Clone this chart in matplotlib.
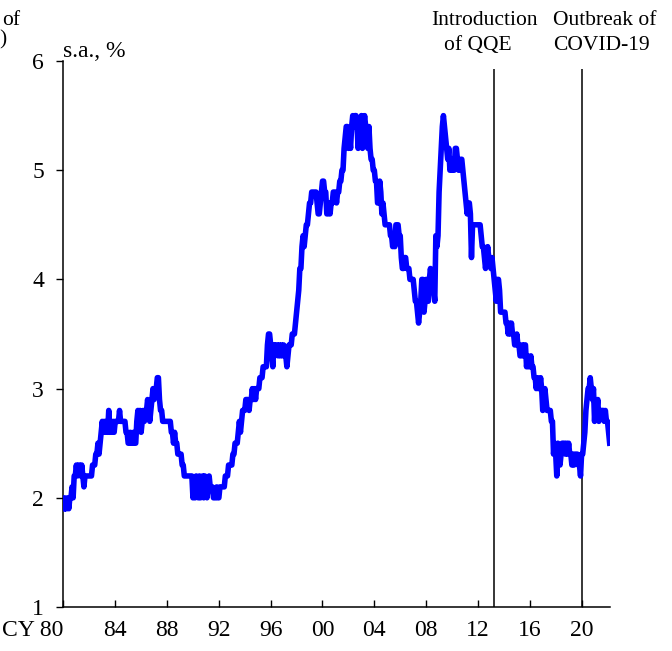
import matplotlib
matplotlib.use('Agg')
import numpy as np
import matplotlib.pyplot as plt

plt.rcParams['font.family'] = ['Liberation Serif', 'DejaVu Serif']

# unemployment rate, s.a., %, monthly from Jan 1980
rate_1980s = [1.9, 2.0, 1.9, 1.9, 2.0, 1.9, 2.0, 2.0, 2.1, 2.0, 2.2, 2.2,
              2.3, 2.2, 2.3, 2.3, 2.2, 2.3, 2.2, 2.1, 2.2, 2.2, 2.2, 2.2,
              2.2, 2.2, 2.2, 2.3, 2.3, 2.3, 2.4, 2.4, 2.5, 2.4, 2.5, 2.6,
              2.7, 2.6, 2.7, 2.6, 2.7, 2.6, 2.8, 2.6, 2.7, 2.6, 2.7, 2.6,
              2.7, 2.7, 2.7, 2.7, 2.8, 2.7, 2.7, 2.7, 2.7, 2.7, 2.6, 2.6,
              2.5, 2.5, 2.6, 2.5, 2.5, 2.6, 2.5, 2.5, 2.7, 2.8, 2.7, 2.8,
              2.6, 2.7, 2.8, 2.7, 2.8, 2.8, 2.9, 2.8, 2.7, 2.8, 2.9, 3.0,
              2.9, 3.0, 3.0, 3.1, 3.1, 2.9, 2.8, 2.8, 2.7, 2.7, 2.7, 2.7,
              2.7, 2.7, 2.7, 2.7, 2.6, 2.6, 2.5, 2.6, 2.5, 2.5, 2.4, 2.4,
              2.4, 2.4, 2.3, 2.3, 2.2, 2.2, 2.2, 2.2, 2.2, 2.2, 2.2, 2.2]
rate_1990s = [2.0, 2.1, 2.0, 2.2, 2.1, 2.0, 2.2, 2.0, 2.1, 2.2, 2.0, 2.2,
              2.1, 2.0, 2.1, 2.2, 2.1, 2.1, 2.1, 2.0, 2.0, 2.0, 2.1, 2.0,
              2.0, 2.1, 2.1, 2.1, 2.1, 2.1, 2.2, 2.2, 2.2, 2.3, 2.3, 2.3,
              2.3, 2.4, 2.4, 2.5, 2.5, 2.5, 2.6, 2.7, 2.6, 2.7, 2.8, 2.8,
              2.8, 2.9, 2.9, 2.9, 2.8, 2.9, 2.9, 3.0, 2.9, 3.0, 2.9, 3.0,
              3.0, 3.0, 3.1, 3.1, 3.1, 3.2, 3.2, 3.2, 3.2, 3.4, 3.5, 3.5,
              3.4, 3.3, 3.2, 3.4, 3.3, 3.4, 3.4, 3.3, 3.4, 3.3, 3.4, 3.3,
              3.4, 3.3, 3.3, 3.2, 3.3, 3.4, 3.4, 3.4, 3.5, 3.5, 3.5, 3.6,
              3.7, 3.8, 3.9, 4.1, 4.1, 4.3, 4.4, 4.3, 4.4, 4.5, 4.5, 4.6,
              4.7, 4.7, 4.8, 4.8, 4.8, 4.8, 4.8, 4.7, 4.6, 4.6, 4.7, 4.8]
rate_2000s = [4.9, 4.9, 4.8, 4.8, 4.6, 4.6, 4.7, 4.6, 4.7, 4.7, 4.8, 4.8,
              4.8, 4.7, 4.8, 4.8, 4.9, 4.9, 5.0, 5.0, 5.2, 5.3, 5.4, 5.4,
              5.2, 5.3, 5.2, 5.4, 5.5, 5.4, 5.5, 5.5, 5.4, 5.2, 5.4, 5.3,
              5.5, 5.2, 5.4, 5.5, 5.4, 5.3, 5.2, 5.4, 5.2, 5.1, 5.1, 5.0,
              5.0, 4.9, 4.9, 4.7, 4.7, 4.9, 4.8, 4.6, 4.7, 4.6, 4.5, 4.5,
              4.5, 4.5, 4.5, 4.4, 4.4, 4.3, 4.4, 4.3, 4.5, 4.5, 4.5, 4.4,
              4.4, 4.2, 4.1, 4.1, 4.2, 4.2, 4.1, 4.1, 4.1, 4.0, 4.0, 4.0,
              4.0, 3.9, 3.8, 3.8, 3.7, 3.6, 3.7, 3.8, 4.0, 4.0, 3.7, 3.8,
              4.0, 3.8, 3.8, 4.0, 4.1, 4.0, 4.0, 3.9, 3.8, 4.4, 4.3, 4.4,
              4.8, 5.0, 5.2, 5.4, 5.5, 5.4, 5.3, 5.2, 5.1, 5.2, 5.0, 5.1]
rate_2010s = [5.0, 5.1, 5.0, 5.2, 5.2, 5.1, 5.0, 5.0, 5.1, 5.1, 5.0, 4.9,
              4.8, 4.7, 4.6, 4.7, 4.7, 4.6, 4.2, 4.5, 4.5, 4.5, 4.5, 4.5,
              4.5, 4.5, 4.5, 4.4, 4.3, 4.3, 4.2, 4.1, 4.2, 4.3, 4.2, 4.2,
              4.1, 4.2, 4.1, 4.0, 3.9, 3.8, 4.0, 4.0, 3.9, 3.7, 3.7, 3.7,
              3.7, 3.7, 3.6, 3.6, 3.5, 3.6, 3.5, 3.6, 3.5, 3.5, 3.4, 3.4,
              3.5, 3.4, 3.4, 3.3, 3.3, 3.4, 3.3, 3.4, 3.4, 3.2, 3.3, 3.2,
              3.2, 3.3, 3.2, 3.2, 3.1, 3.1, 3.0, 3.1, 3.0, 3.0, 3.1, 3.0,
              2.8, 2.9, 3.0, 2.9, 2.8, 2.8, 2.8, 2.8, 2.7, 2.7, 2.4, 2.5,
              2.4, 2.2, 2.5, 2.4, 2.3, 2.4, 2.5, 2.5, 2.5, 2.4, 2.5, 2.4,
              2.5, 2.4, 2.4, 2.3, 2.4, 2.3, 2.4, 2.4, 2.4, 2.3, 2.3, 2.2]
rate_2020s = [2.4, 2.4, 2.5, 2.6, 2.8, 2.9, 3.0, 3.0, 3.1, 3.0, 2.9, 3.0,
              2.7, 2.9, 2.8, 2.9, 2.7, 2.8, 2.8, 2.8, 2.8, 2.7, 2.8, 2.7,
              2.7, 2.6, 2.5]

start_year = 1980
tick_years = [1980, 1984, 1988, 1992, 1996, 2000, 2004, 2008, 2012, 2016, 2020]
tick_labels = ['CY 80', '84', '88', '92', '96', '00', '04', '08', '12', '16', '20']
event_years = [2013.25, 2020.0]
event_line1 = ['Introduction', 'Outbreak of']
event_line2 = ['of QQE', 'COVID-19']

rate = np.array(rate_1980s + rate_1990s + rate_2000s + rate_2010s + rate_2020s)
t = start_year + np.arange(len(rate)) / 12

fig = plt.figure(figsize=(6.72, 6.51), dpi=100)
ax = fig.add_axes([63.4 / 672, 1 - 607 / 651, (610.1 - 63.4) / 672, (607 - 61) / 651])

ax.plot(t, rate, color='#0000ff', lw=4, solid_joinstyle='round', zorder=3)

# event lines
ax.vlines(event_years, 1, 5.93, color='black', lw=1.1, zorder=2)

ax.set_xlim(1980, 2022.2)
ax.set_ylim(1, 6)
ax.set_yticks([1, 2, 3, 4, 5, 6])
ax.set_xticks(tick_years)
ax.set_xticklabels(tick_labels)
ax.get_xticklabels()[0].set_horizontalalignment('right')

for s in ['top', 'right']:
    ax.spines[s].set_visible(False)
for s in ['left', 'bottom']:
    ax.spines[s].set_linewidth(1.1)

ax.tick_params(axis='x', direction='in', length=5, width=1, labelsize=17, pad=9)
ax.tick_params(axis='y', direction='out', length=5, width=1, labelsize=17, pad=9)

fig.text(63 / 672, 1 - 57 / 651, 's.a., %', fontsize=17, va='baseline', ha='left')

# annotations above event lines
fig.text(484 / 672, 1 - 25 / 651, event_line1[0], fontsize=15.5, va='baseline', ha='center')
fig.text(478 / 672, 1 - 50 / 651, event_line2[0], fontsize=15.5, va='baseline', ha='center')
fig.text(605 / 672, 1 - 25 / 651, event_line1[1], fontsize=15.5, va='baseline', ha='center')
fig.text(601 / 672, 1 - 50 / 651, event_line2[1], fontsize=15.5, va='baseline', ha='center')

# remains of the neighbouring panel's label
fig.text(20 / 672, 1 - 25 / 651, 'of', fontsize=15.5, va='baseline', ha='right')
fig.text(7 / 672, 1 - 44 / 651, ')', fontsize=15.5, va='baseline', ha='right')

fig.savefig('out.png', dpi=100)
